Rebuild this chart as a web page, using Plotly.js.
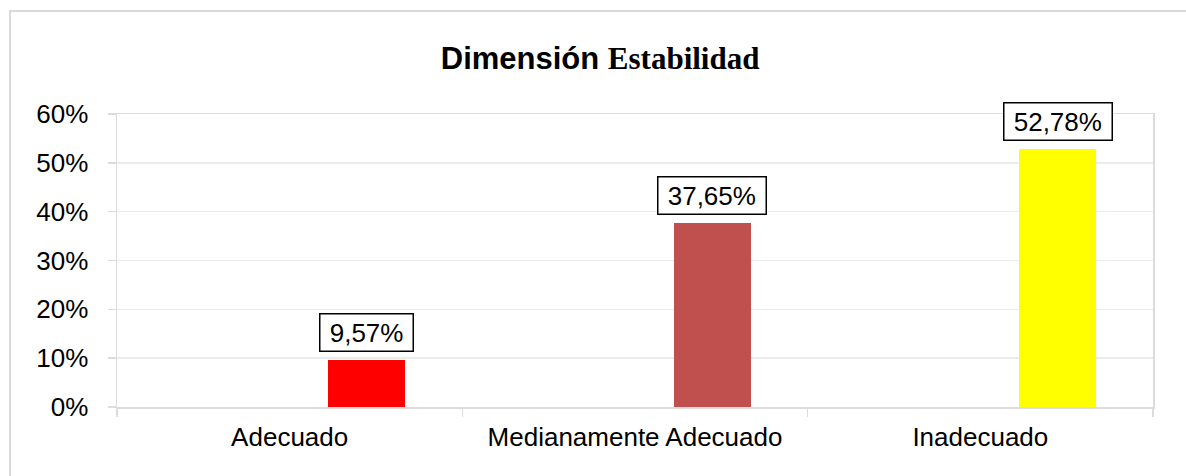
<!DOCTYPE html>
<html>
<head>
<meta charset="utf-8">
<script src="https://cdn.plot.ly/plotly-3.0.1.min.js"></script>
<style>
  html, body { margin: 0; padding: 0; background: #ffffff; }
  #chart { width: 1186px; height: 476px; }
</style>
</head>
<body>
<div id="chart"></div>
<script>
// ---- data ----
const categories = ["Adecuado", "Medianamente Adecuado", "Inadecuado"];
const values = [9.57, 37.65, 52.78];          // percent
const barColors = ["#ff0000", "#c0504d", "#ffff00"];
const yTickValues = [0, 10, 20, 30, 40, 50, 60];
const yTickLabels = ["0%", "10%", "20%", "30%", "40%", "50%", "60%"];

// ---- layout geometry ----
const W = 1186, H = 476;
const M = { l: 117, r: 33, t: 114, b: 69 };
const plotW = W - M.l - M.r, plotH = H - M.t - M.b;
const barWidth = 0.223, barOffset = 0.112;

const fmt = v => v.toFixed(2).replace('.', ',') + '%';

const trace = {
  type: 'bar',
  x: categories,
  y: values,
  width: categories.map(() => barWidth),
  offset: categories.map(() => barOffset),
  marker: { color: barColors, line: { width: 0 } },
  hoverinfo: 'none',
  showlegend: false
};

const annotations = categories.map((c, i) => ({
  x: i + barOffset + barWidth / 2,
  y: values[i],
  xref: 'x', yref: 'y',
  text: '\u00a0' + fmt(values[i]) + '\u00a0',
  showarrow: false,
  yanchor: 'bottom',
  xanchor: 'center',
  yshift: 8,
  height: 32,
  valign: 'middle',
  bgcolor: '#ffffff',
  bordercolor: '#000000',
  borderwidth: 1.5,
  borderpad: 2,
  font: { family: 'Liberation Sans, Arial, sans-serif', size: 26, color: '#000000' }
}));

// outer frame (top & left visible, rest outside image)
const px2x = px => (px - M.l) / plotW;
const px2y = py => (H - M.b - py) / plotH;
const shapes = [{
  type: 'rect', xref: 'paper', yref: 'paper',
  x0: px2x(10), x1: px2x(1220),
  y0: px2y(510), y1: px2y(11),
  line: { color: '#d9d9d9', width: 2 },
  fillcolor: 'rgba(0,0,0,0)',
  layer: 'below'
}];

const layout = {
  width: W, height: H,
  margin: M,
  paper_bgcolor: '#ffffff',
  plot_bgcolor: '#ffffff',
  font: { family: 'Liberation Sans, Arial, sans-serif', size: 26, color: '#000000' },
  title: {
    text: '<b>Dimensión</b> <b><span style="font-family:Liberation Serif">Estabilidad</span></b>',
    font: { family: 'Liberation Sans, Arial, sans-serif', size: 31, color: '#000000' },
    xref: 'container', yref: 'container',
    x: 0.506, xanchor: 'center',
    y: 0.878, yanchor: 'middle'
  },
  xaxis: {
    type: 'category',
    range: [-0.5, 2.5],
    showgrid: false,
    showline: true, linecolor: '#dcdcdc', linewidth: 1.5, mirror: true,
    ticks: 'outside', tickson: 'boundaries', ticklen: 8, tickcolor: '#dcdcdc', tickwidth: 1.5,
    tickfont: { size: 26, color: '#000000' },
    ticklabelstandoff: 6,
    fixedrange: true
  },
  yaxis: {
    range: [0, 60],
    tickvals: yTickValues,
    ticktext: yTickLabels,
    showgrid: true, gridcolor: '#ebebeb', gridwidth: 1.5,
    zeroline: false,
    showline: true, linecolor: '#dcdcdc', linewidth: 1.5, mirror: true,
    ticks: 'outside', ticklen: 8, tickcolor: '#dcdcdc', tickwidth: 1.5,
    tickfont: { size: 26, color: '#000000' },
    ticklabelstandoff: 14,
    fixedrange: true
  },
  bargap: 0,
  annotations: annotations,
  shapes: shapes
};

Plotly.newPlot('chart', [trace], layout, { displayModeBar: false, staticPlot: true });
</script>
</body>
</html>
